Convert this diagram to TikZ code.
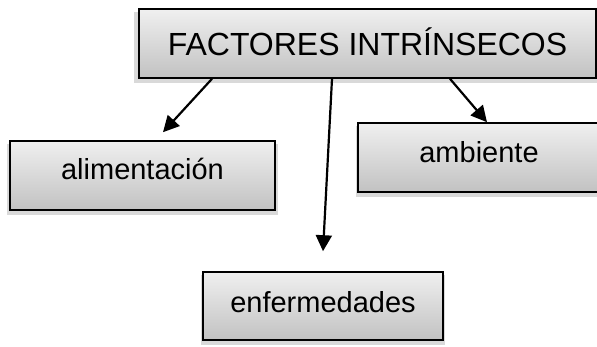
\documentclass[tikz,border=0pt]{standalone}
\usepackage{fontspec}
\setmainfont{Liberation Sans}
\usetikzlibrary{arrows.meta,shadows}
\tikzset{
	box/.style={draw,rectangle,line width=1.6pt,inner sep=0pt,top color=black!6,bottom color=black!24,
		drop shadow={shadow xshift=0pt,shadow yshift=-4pt,shadow scale=1.02,opacity=.15,fill=black}},
	big/.style={font=\fontsize{32}{38}\selectfont},
	small/.style={font=\fontsize{29}{34}\selectfont},
	arr/.style={line width=2.2pt,-{Triangle[length=16pt,width=16pt]}}
}

\begin{document}
\begin{tikzpicture}[x=1pt,y=-1pt]
			\useasboundingbox (0,0) rectangle (597,346);
			\node[box,big,anchor=base,minimum width=457pt,text height=46pt,text depth=23pt] (fac) at (367.5,55) {FACTORES INTRÍNSECOS};
			\node[box,small,anchor=base,minimum width=265pt,text height=38pt,text depth=31pt] (ali) at (142.5,179) {alimentación};
			\node[box,small,anchor=base,minimum width=242pt,text height=39pt,text depth=30pt] (amb) at (479,162) {ambiente};
			\node[box,small,anchor=base,minimum width=240pt,text height=40pt,text depth=28pt] (enf) at (323,312) {enfermedades};
			
			\draw[arr] ([xshift=-155.5pt]fac.south) -- ([xshift=20.5pt,yshift=8pt]ali.north);
			\draw[arr] ([xshift=-35.5pt]fac.south) -- ([yshift=20pt]enf.north);
			\draw[arr] ([xshift=82.5pt]fac.south) -- ([xshift=8pt]amb.north);
		\end{tikzpicture}
\end{document}
